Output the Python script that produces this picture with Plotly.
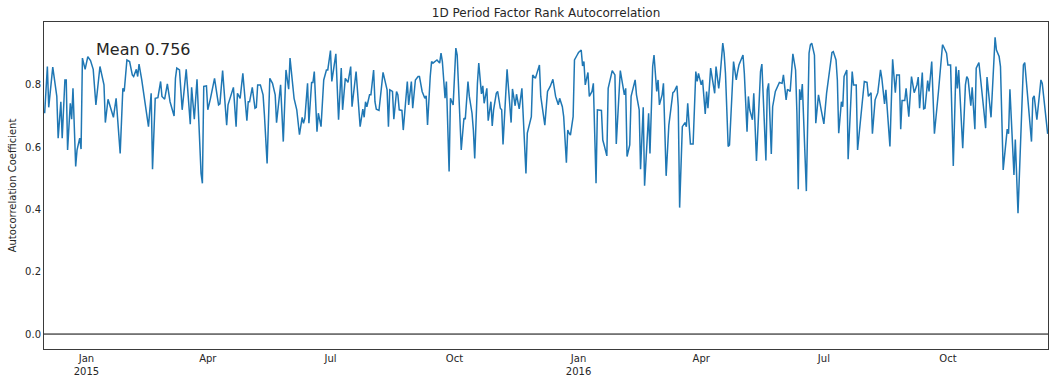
import plotly.graph_objects as go

dates = [
"2014-12-01","2014-12-03","2014-12-04","2014-12-07","2014-12-10","2014-12-11","2014-12-13","2014-12-14",
"2014-12-16","2014-12-17","2014-12-18","2014-12-20","2014-12-21","2014-12-22","2014-12-24","2014-12-25",
"2014-12-27","2014-12-28","2014-12-29","2014-12-31",
"2015-01-02","2015-01-04","2015-01-06","2015-01-08","2015-01-11","2015-01-14","2015-01-15","2015-01-17",
"2015-01-21","2015-01-23","2015-01-26","2015-01-28","2015-01-29","2015-01-31","2015-02-02","2015-02-04",
"2015-02-05","2015-02-07","2015-02-08","2015-02-09","2015-02-11","2015-02-13","2015-02-14","2015-02-16",
"2015-02-18","2015-02-19","2015-02-21","2015-02-23","2015-02-25","2015-02-26","2015-02-28","2015-03-02",
"2015-03-04","2015-03-07","2015-03-08","2015-03-09","2015-03-11","2015-03-13","2015-03-16","2015-03-19",
"2015-03-20","2015-03-22","2015-03-24","2015-03-27","2015-03-28","2015-03-29","2015-03-31","2015-04-01",
"2015-04-03","2015-04-06","2015-04-08","2015-04-09","2015-04-10","2015-04-12","2015-04-15","2015-04-16",
"2015-04-20","2015-04-22","2015-04-23","2015-04-25","2015-04-27","2015-04-30","2015-05-01","2015-05-02",
"2015-05-04","2015-05-06","2015-05-07","2015-05-08","2015-05-10","2015-05-12","2015-05-13","2015-05-15",
"2015-05-17","2015-05-19","2015-05-21","2015-05-22","2015-05-25","2015-05-27","2015-05-29","2015-05-31",
"2015-06-01","2015-06-04","2015-06-06","2015-06-07","2015-06-08","2015-06-10","2015-06-11","2015-06-12",
"2015-06-14","2015-06-15","2015-06-17","2015-06-18","2015-06-19","2015-06-21","2015-06-22","2015-06-24",
"2015-06-26","2015-06-28","2015-06-29","2015-07-01","2015-07-02","2015-07-05","2015-07-07","2015-07-09",
"2015-07-10","2015-07-12","2015-07-14","2015-07-16","2015-07-17","2015-07-20","2015-07-23","2015-07-25",
"2015-07-26","2015-07-27","2015-07-28","2015-07-30","2015-07-31","2015-08-02","2015-08-03","2015-08-04",
"2015-08-06","2015-08-09","2015-08-12","2015-08-13","2015-08-14","2015-08-16","2015-08-17","2015-08-19",
"2015-08-20","2015-08-21","2015-08-23","2015-08-24","2015-08-26","2015-08-27","2015-08-28","2015-08-30",
"2015-08-31","2015-09-02","2015-09-04","2015-09-05","2015-09-07","2015-09-09","2015-09-10","2015-09-11",
"2015-09-13","2015-09-14","2015-09-15","2015-09-17","2015-09-18","2015-09-20","2015-09-21","2015-09-22",
"2015-09-24","2015-09-25","2015-09-27","2015-09-28","2015-09-30","2015-10-02","2015-10-03","2015-10-06",
"2015-10-08","2015-10-09","2015-10-11","2015-10-12","2015-10-14","2015-10-15","2015-10-16","2015-10-18",
"2015-10-19","2015-10-21","2015-10-22","2015-10-23","2015-10-25","2015-10-26","2015-10-28","2015-10-29",
"2015-10-30","2015-11-01","2015-11-02","2015-11-04","2015-11-05","2015-11-06","2015-11-09","2015-11-12",
"2015-11-13","2015-11-15","2015-11-16","2015-11-18","2015-11-20","2015-11-23","2015-11-24","2015-11-27",
"2015-11-28","2015-11-30","2015-12-03","2015-12-04","2015-12-06","2015-12-07","2015-12-09","2015-12-11",
"2015-12-13","2015-12-14","2015-12-15","2015-12-17","2015-12-18","2015-12-20","2015-12-21","2015-12-23",
"2015-12-24","2015-12-25","2015-12-26","2015-12-28","2015-12-29","2015-12-31",
"2016-01-01","2016-01-03","2016-01-04","2016-01-05","2016-01-06","2016-01-08","2016-01-09","2016-01-11",
"2016-01-12","2016-01-14","2016-01-15","2016-01-18","2016-01-19","2016-01-20","2016-01-22","2016-01-23",
"2016-01-25","2016-01-26","2016-01-28","2016-01-29","2016-02-01","2016-02-03","2016-02-04","2016-02-05",
"2016-02-06","2016-02-08","2016-02-09","2016-02-12","2016-02-13","2016-02-15","2016-02-16","2016-02-18",
"2016-02-19","2016-02-22","2016-02-23","2016-02-25","2016-02-26","2016-02-28","2016-02-29","2016-03-01",
"2016-03-03","2016-03-04","2016-03-06","2016-03-08","2016-03-11","2016-03-12","2016-03-14","2016-03-15",
"2016-03-16","2016-03-18","2016-03-20","2016-03-21","2016-03-22","2016-03-24","2016-03-26","2016-03-28",
"2016-03-29","2016-03-30","2016-04-01","2016-04-02","2016-04-04","2016-04-05","2016-04-06","2016-04-08",
"2016-04-10","2016-04-11","2016-04-12","2016-04-14","2016-04-15","2016-04-17","2016-04-18","2016-04-19",
"2016-04-21","2016-04-22","2016-04-25","2016-04-27","2016-04-28","2016-04-29","2016-05-02","2016-05-03",
"2016-05-05","2016-05-06","2016-05-07","2016-05-09","2016-05-10","2016-05-12","2016-05-15","2016-05-16",
"2016-05-19","2016-05-20","2016-05-21","2016-05-23","2016-05-24","2016-05-26","2016-05-29","2016-05-31",
"2016-06-01","2016-06-03","2016-06-04","2016-06-06","2016-06-08","2016-06-10","2016-06-11","2016-06-12",
"2016-06-13","2016-06-14","2016-06-15","2016-06-18","2016-06-20","2016-06-21","2016-06-22","2016-06-24",
"2016-06-25","2016-06-27","2016-06-29","2016-07-01","2016-07-03","2016-07-05","2016-07-07","2016-07-08",
"2016-07-10","2016-07-11","2016-07-12","2016-07-14","2016-07-15","2016-07-16","2016-07-18","2016-07-19",
"2016-07-22","2016-07-23","2016-07-25","2016-07-26","2016-07-28","2016-07-30","2016-07-31","2016-08-02",
"2016-08-03","2016-08-05","2016-08-06","2016-08-08","2016-08-10","2016-08-12","2016-08-13","2016-08-15",
"2016-08-16","2016-08-19","2016-08-21","2016-08-23","2016-08-24","2016-08-26","2016-08-27","2016-08-28",
"2016-08-30","2016-08-31","2016-09-02","2016-09-04","2016-09-06","2016-09-08","2016-09-09","2016-09-10",
"2016-09-12","2016-09-13","2016-09-14","2016-09-16","2016-09-17","2016-09-19","2016-09-21","2016-09-24",
"2016-09-27","2016-09-28","2016-09-30","2016-10-01","2016-10-03","2016-10-05","2016-10-07","2016-10-08",
"2016-10-09","2016-10-12","2016-10-14","2016-10-15","2016-10-16","2016-10-18","2016-10-19","2016-10-21",
"2016-10-22","2016-10-24","2016-10-25","2016-10-29","2016-10-30","2016-11-02","2016-11-05","2016-11-06",
"2016-11-08","2016-11-09","2016-11-11","2016-11-14","2016-11-15","2016-11-16","2016-11-19","2016-11-20",
"2016-11-22","2016-11-26","2016-11-27","2016-12-02","2016-12-03","2016-12-04","2016-12-06","2016-12-09",
"2016-12-10","2016-12-12","2016-12-14",
]

autocorr = [
0.709,0.859,0.728,0.857,0.763,0.629,0.746,0.629,
0.816,0.816,0.591,0.741,0.690,0.789,0.538,0.591,
0.629,0.594,0.886,0.850,
0.891,0.878,0.850,0.736,0.859,0.800,0.679,0.754,
0.696,0.757,0.580,0.789,0.779,0.880,0.875,0.832,
0.827,0.850,0.827,0.867,0.816,0.752,0.714,0.666,
0.773,0.529,0.757,0.759,0.811,0.763,0.754,0.803,
0.746,0.700,0.821,0.854,0.848,0.720,0.850,0.674,
0.792,0.690,0.818,0.516,0.484,0.795,0.797,0.720,
0.757,0.821,0.763,0.736,0.739,0.846,0.671,0.736,
0.792,0.666,0.773,0.757,0.837,0.685,0.746,0.746,
0.792,0.725,0.728,0.800,0.800,0.768,0.704,0.548,
0.821,0.805,0.768,0.679,0.800,0.618,0.848,0.786,
0.886,0.757,0.720,0.682,0.640,0.696,0.677,0.693,
0.805,0.677,0.808,0.808,0.843,0.650,0.709,0.666,
0.816,0.848,0.848,0.910,0.811,0.900,0.688,0.854,
0.720,0.821,0.808,0.859,0.730,0.843,0.666,0.722,
0.696,0.746,0.730,0.768,0.768,0.848,0.746,0.722,
0.718,0.840,0.784,0.666,0.784,0.779,0.690,0.779,
0.768,0.720,0.718,0.655,0.763,0.811,0.736,0.811,
0.725,0.816,0.827,0.827,0.779,0.757,0.765,0.671,
0.827,0.875,0.870,0.875,0.880,0.870,0.902,0.875,
0.757,0.811,0.522,0.757,0.736,0.918,0.896,0.591,
0.693,0.690,0.811,0.763,0.709,0.655,0.564,0.805,
0.870,0.771,0.797,0.741,0.789,0.685,0.746,0.668,
0.720,0.773,0.779,0.725,0.720,0.609,0.850,0.679,
0.787,0.733,0.770,0.723,0.789,0.516,0.645,0.698,
0.832,0.821,0.864,0.763,0.709,0.671,0.779,0.795,
0.818,0.789,0.763,0.736,0.757,0.730,0.698,0.550,
0.655,0.645,0.639,0.698,0.880,0.896,
0.904,0.912,0.861,0.875,0.800,0.840,0.763,0.779,
0.805,0.484,0.720,0.718,0.623,0.607,0.572,0.789,
0.827,0.846,0.832,0.610,0.846,0.789,0.768,0.789,
0.570,0.607,0.763,0.816,0.768,0.720,0.529,0.728,
0.476,0.709,0.580,0.859,0.896,0.779,0.816,0.736,
0.768,0.805,0.508,0.671,0.775,0.779,0.797,0.730,
0.406,0.666,0.679,0.666,0.741,0.610,0.610,0.843,
0.811,0.837,0.800,0.816,0.707,0.779,0.725,0.854,
0.805,0.773,0.859,0.789,0.827,0.934,0.902,0.837,
0.602,0.607,0.875,0.816,0.843,0.864,0.896,0.837,
0.650,0.763,0.720,0.688,0.773,0.556,0.843,0.867,
0.557,0.784,0.805,0.578,0.730,0.779,0.808,0.805,
0.832,0.752,0.786,0.779,0.900,0.848,0.709,0.465,
0.786,0.752,0.803,0.459,0.902,0.929,0.934,0.896,
0.677,0.768,0.720,0.675,0.773,0.848,0.904,0.907,
0.880,0.816,0.645,0.746,0.730,0.827,0.848,0.561,
0.843,0.800,0.800,0.591,0.688,0.763,0.811,0.808,
0.763,0.775,0.643,0.752,0.775,0.848,0.821,0.739,
0.784,0.602,0.882,0.775,0.832,0.832,0.658,0.750,
0.750,0.789,0.698,0.827,0.775,0.800,0.825,0.725,
0.840,0.723,0.725,0.814,0.779,0.875,0.643,0.779,
0.929,0.921,0.902,0.864,0.864,0.540,0.859,0.789,
0.848,0.597,0.800,0.827,0.818,0.733,0.792,0.658,
0.854,0.872,0.827,0.661,0.825,0.696,0.953,0.912,
0.891,0.859,0.527,0.658,0.643,0.786,0.511,0.625,
0.388,0.864,0.872,0.618,0.757,0.765,0.688,0.816,
0.805,0.714,0.643,
]

tick_dates = ["2015-01-01", "2015-04-01", "2015-07-01", "2015-10-01",
              "2016-01-01", "2016-04-01", "2016-07-01", "2016-10-01"]
tick_labels = ["Jan<br>2015", "Apr", "Jul", "Oct", "Jan<br>2016", "Apr", "Jul", "Oct"]
y_ticks = [0.0, 0.2, 0.4, 0.6, 0.8]
mean_value = 0.756

TXT = "#262626"
FONT = "DejaVu Sans"

fig = go.Figure()
fig.add_trace(go.Scatter(x=dates, y=autocorr, mode="lines",
                         line=dict(color="#1f77b4", width=1.5),
                         showlegend=False, hoverinfo="skip"))

fig.add_hline(y=0, line=dict(color="black", width=1))

fig.add_annotation(text="Mean %.3f" % mean_value, xref="paper", yref="paper",
                   x=0.05, y=0.95, xanchor="left", yanchor="top", showarrow=False,
                   font=dict(family=FONT, size=16, color=TXT))

fig.update_layout(
    width=1055, height=385,
    margin=dict(l=44, r=7, t=22, b=36),
    paper_bgcolor="white", plot_bgcolor="white",
    font=dict(family=FONT, size=10, color=TXT),
    title=dict(text="1D Period Factor Rank Autocorrelation", x=0.5176, xanchor="center",
               y=0.966, yanchor="middle", font=dict(family=FONT, size=12, color=TXT)),
    xaxis=dict(range=["2014-11-30 12:00", "2016-12-14 06:00"], tickvals=tick_dates,
               ticktext=tick_labels, showgrid=False, zeroline=False, automargin=False,
               showline=True, mirror=True, linecolor="#3a3a3a", linewidth=1,
               ticks="", tickfont=dict(size=10, color=TXT)),
    yaxis=dict(range=[-0.048, 1.002], tickvals=y_ticks, ticktext=["%.1f" % v for v in y_ticks],
               showgrid=False, zeroline=False, showline=True, mirror=True, automargin=False,
               linecolor="#3a3a3a", linewidth=1, ticks="",
               tickfont=dict(size=10, color=TXT),
               title=dict(text="Autocorrelation Coefficient", font=dict(size=10, color=TXT),
                          standoff=6)),
)

# remove the default 8 px page margin so the figure fills the window exactly
fig.write_html("out.html", config={"displayModeBar": False},
               post_script="document.body.style.margin='0';document.body.style.overflow='hidden';")
